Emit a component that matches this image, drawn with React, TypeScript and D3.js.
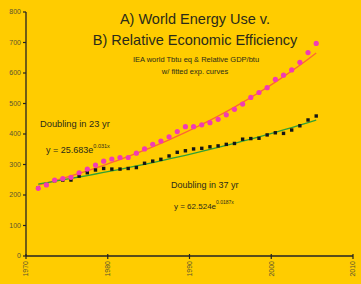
import React from "react";
import * as d3 from "d3";

// years of observation (plotted at mid-year)
const years = d3.range(1971, 2006);

// A) IEA world energy use, Tbtu eq (scaled)
const energyUse = [
  222, 233, 249, 254, 258, 273, 285, 298, 311, 318, 323, 323, 337, 351, 366,
  377, 391, 408, 424, 424, 430, 437, 448, 463, 481, 498, 520, 536, 552, 579,
  593, 610, 635, 667, 697,
];

// B) relative GDP / btu
const efficiency = [
  223, 234, 247, 249, 249, 262, 273, 282, 287, 285, 285, 287, 290, 304, 311,
  317, 328, 340, 345, 351, 353, 358, 361, 366, 369, 383, 385, 386, 397, 404,
  402, 413, 427, 446, 459,
];

// fitted exponential curves, as printed on the chart (x = year - 1900)
const fitA = { a: 25.683, b: 0.031 };
const fitB = { a: 62.524, b: 0.0187 };

const yTicks = [0, 100, 200, 300, 400, 500, 600, 700, 800];
const xTicks = [1970, 1980, 1990, 2000, 2010];

const width = 361;
const height = 284;
const font = "'Liberation Sans', Arial, sans-serif";
const textColor = "#2b2b1a";

const App = () => {
  const x = d3.scaleLinear().domain([1970, 2010]).range([26, 353]);
  const y = d3.scaleLinear().domain([0, 800]).range([256, 12]);

  const px = (yr: number) => x(yr + 0.5);

  const fitLine = (fit: { a: number; b: number }) =>
    d3
      .line<number>()
      .x((yr) => px(yr))
      .y((yr) => y(fit.a * Math.exp(fit.b * (yr - 1900))))
      .curve(d3.curveMonotoneX)(years) || "";

  return (
    <svg
      width={width}
      height={height}
      style={{ position: "absolute", left: 0, top: 0, display: "block" }}
      fontFamily={font}
    >
      <rect x={0} y={0} width={width} height={height} fill="#FFCC00" />

      {/* axes */}
      <line x1={x(1970)} x2={x(1970)} y1={y(800)} y2={y(0)} stroke="#222" strokeWidth={1.3} />
      <line x1={x(1970)} x2={x(2010)} y1={y(0)} y2={y(0)} stroke="#222" strokeWidth={1.3} />

      {yTicks.map((t) => (
        <g key={t}>
          <line x1={x(1970) - 3} x2={x(1970)} y1={y(t)} y2={y(t)} stroke="#222" strokeWidth={1.2} />
          <text
            x={x(1970) - 5}
            y={y(t)}
            dy="0.35em"
            textAnchor="end"
            fontSize={7}
            fill="#5a5530"
          >
            {t}
          </text>
        </g>
      ))}

      {xTicks.map((t) => (
        <g key={t}>
          <line x1={x(t)} x2={x(t)} y1={y(0) - 2} y2={y(0) + 3} stroke="#222" strokeWidth={1.2} />
          <text
            transform={`translate(${x(t)},${y(0) + 5}) rotate(-90)`}
            dy="0.35em"
            textAnchor="end"
            fontSize={7}
            fill="#5a5530"
          >
            {t}
          </text>
        </g>
      ))}

      {/* fitted curves */}
      <path d={fitLine(fitA)} fill="none" stroke="#FF6633" strokeWidth={1.3} />
      <path d={fitLine(fitB)} fill="none" stroke="#33A033" strokeWidth={1.3} />

      {/* B) black points */}
      {years.map((yr, i) => (
        <rect
          key={"b" + yr}
          x={px(yr) - 1.7}
          y={y(efficiency[i]) - 1.7}
          width={3.4}
          height={3.4}
          fill="#151515"
        />
      ))}

      {/* A) pink points */}
      {years.map((yr, i) => (
        <circle key={"a" + yr} cx={px(yr)} cy={y(energyUse[i])} r={2.6} fill="#F03CB4" />
      ))}

      {/* titles */}
      <text x={195} y={24} textAnchor="middle" fontSize={14.5} fill={textColor}>
        A) World Energy Use v.
      </text>
      <text x={195} y={45} textAnchor="middle" fontSize={14.5} fill={textColor}>
        B) Relative Economic Efficiency
      </text>
      <text x={196} y={62} textAnchor="middle" fontSize={7.5} fill={textColor}>
        IEA world Tbtu eq &amp; Relative GDP/btu
      </text>
      <text x={195} y={74} textAnchor="middle" fontSize={7.5} fill={textColor}>
        w/ fitted exp. curves
      </text>

      {/* annotations */}
      <text x={40} y={127} fontSize={9.3} fill={textColor}>
        Doubling in 23 yr
      </text>
      <text x={46} y={153} fontSize={9} fill={textColor}>
        y = 25.683e
        <tspan dy={-5} fontSize={5.5}>
          0.031x
        </tspan>
      </text>
      <text x={171} y={188} fontSize={9} fill={textColor}>
        Doubling in 37 yr
      </text>
      <text x={174} y={209} fontSize={8} fill={textColor}>
        y = 62.524e
        <tspan dy={-5} fontSize={5}>
          0.0187x
        </tspan>
      </text>
    </svg>
  );
};

export default App;
